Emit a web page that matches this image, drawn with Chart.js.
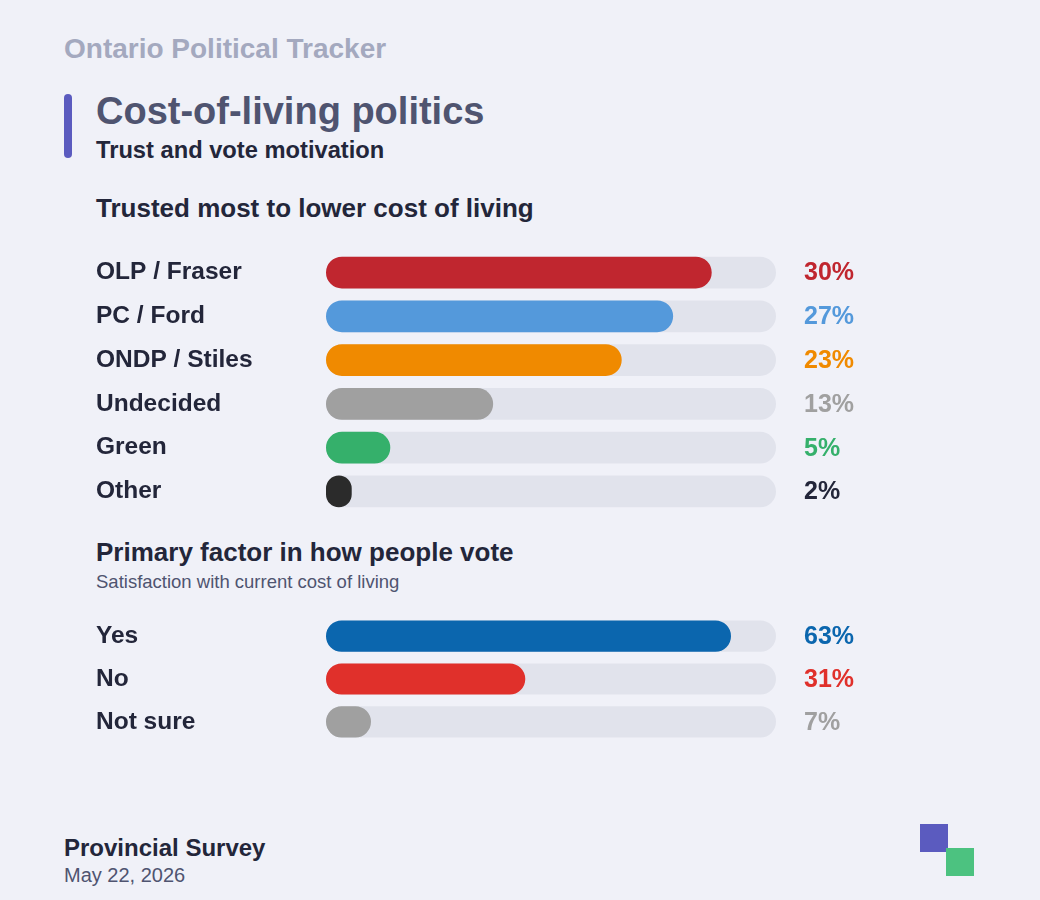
<!DOCTYPE html>
<html>
<head>
<meta charset="utf-8">
<script src="https://cdn.jsdelivr.net/npm/chart.js@4/dist/chart.umd.min.js"></script>
<style>
  body { margin: 0; background: #f0f1f8; font-family: "Liberation Sans", Arial, sans-serif; }
  #pagina { position: relative; width: 1040px; height: 900px; overflow: hidden; }
  .txt { position: absolute; white-space: nowrap; }
  .box { position: absolute; }
</style>
</head>
<body>
<div id="pagina">
  <div class="txt" style="left:64px;top:33px;font-size:28px;font-weight:bold;color:#a4a9bf;">Ontario Political Tracker</div>
  <div class="box" style="left:64px;top:94px;width:8px;height:64px;border-radius:4px;background:#5b5bbf;"></div>
  <div class="txt" style="left:96px;top:90px;font-size:38px;font-weight:bold;color:#4f5470;">Cost-of-living politics</div>
  <div class="txt" style="left:96px;top:137px;font-size:23.7px;font-weight:bold;color:#23263a;">Trust and vote motivation</div>
  <div class="txt" style="left:96px;top:193px;font-size:26px;font-weight:bold;color:#23263a;">Trusted most to lower cost of living</div>
  <div class="box" style="left:96px;top:236px;width:784px;height:292px;"><canvas id="graficoConfianca"></canvas></div>
  <div class="txt" style="left:96px;top:537px;font-size:26px;font-weight:bold;color:#23263a;">Primary factor in how people vote</div>
  <div class="txt" style="left:96px;top:571px;font-size:18.5px;color:#4f5470;">Satisfaction with current cost of living</div>
  <div class="box" style="left:96px;top:600px;width:784px;height:158px;"><canvas id="graficoFator"></canvas></div>
  <div class="txt" style="left:64px;top:834px;font-size:24px;font-weight:bold;color:#23263a;">Provincial Survey</div>
  <div class="txt" style="left:64px;top:864px;font-size:20px;color:#4f5470;">May 22, 2026</div>
  <div class="box" style="left:920px;top:824px;width:28px;height:28px;background:#5b5bbf;"></div>
  <div class="box" style="left:946px;top:848px;width:28px;height:28px;background:#4cc280;"></div>
</div>
<script>
const partidos = ["OLP / Fraser", "PC / Ford", "ONDP / Stiles", "Undecided", "Green", "Other"];
const valoresPartidos = [30, 27, 23, 13, 5, 2];
const coresPartidos = ["#c0262f", "#5499db", "#f08a00", "#a0a0a0", "#35b06b", "#2b2b2b"];
const coresTextoPartidos = ["#c0262f", "#5499db", "#f08a00", "#a0a0a0", "#35b06b", "#23263a"];
const maxPartidos = 35;

const respostas = ["Yes", "No", "Not sure"];
const valoresRespostas = [63, 31, 7];
const coresRespostas = ["#0b66ae", "#e0302b", "#a0a0a0"];
const maxRespostas = 70;

const pluginValores = {
  id: 'valores',
  afterDatasetsDraw(chart, args, opts) {
    const ctx = chart.ctx;
    const meta = chart.getDatasetMeta(0);
    ctx.save();
    ctx.font = 'bold 25px "Liberation Sans", Arial, sans-serif';
    ctx.textBaseline = 'middle';
    meta.data.forEach((barra, i) => {
      ctx.fillStyle = opts.cores[i];
      ctx.fillText(chart.data.datasets[0].data[i] + '%', chart.chartArea.right + 28, barra.y + 1);
    });
    ctx.restore();
  }
};

function criarGrafico(canvas, labels, valores, cores, coresTexto, maximo) {
  new Chart(canvas, {
    type: 'bar',
    data: {
      labels: labels,
      datasets: [{
        data: valores,
        backgroundColor: cores,
        borderRadius: 16,
        borderSkipped: false,
        categoryPercentage: 0.727,
        barPercentage: 1
      }, {
        data: labels.map(() => maximo),
        backgroundColor: '#e1e3ec',
        borderRadius: 16,
        borderSkipped: false,
        categoryPercentage: 0.727,
        barPercentage: 1
      }]
    },
    options: {
      indexAxis: 'y',
      responsive: true,
      maintainAspectRatio: false,
      animation: false,
      layout: { padding: { right: 104 } },
      datasets: { bar: { grouped: false } },
      plugins: {
        legend: { display: false },
        tooltip: { enabled: false },
        valores: { cores: coresTexto }
      },
      scales: {
        x: { display: false, min: 0, max: maximo },
        y: {
          grid: { display: false },
          border: { display: false },
          afterFit: (escala) => { escala.width = 230; },
          ticks: {
            crossAlign: 'far',
            padding: 0,
            color: '#23263a',
            font: { size: 24.5, weight: 'bold', family: '"Liberation Sans", Arial, sans-serif' }
          }
        }
      }
    },
    plugins: [pluginValores]
  });
}

criarGrafico(document.getElementById('graficoConfianca'), partidos, valoresPartidos, coresPartidos, coresTextoPartidos, maxPartidos);
criarGrafico(document.getElementById('graficoFator'), respostas, valoresRespostas, coresRespostas, coresRespostas, maxRespostas);
</script>
</body>
</html>
